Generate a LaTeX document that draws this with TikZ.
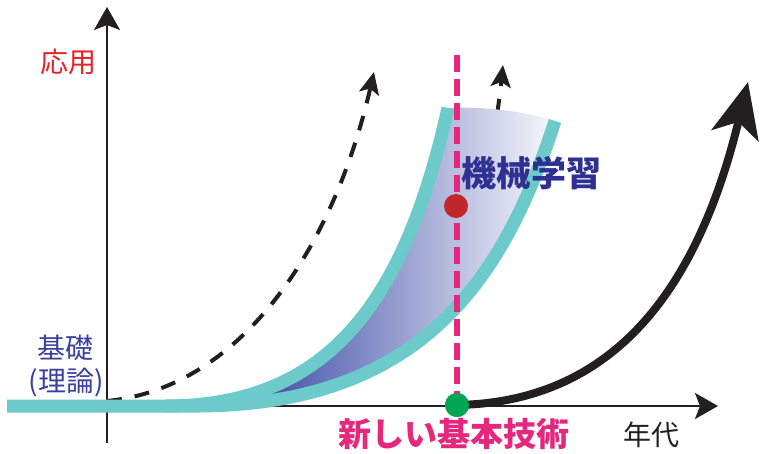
\documentclass[tikz,border=0pt]{standalone}
\usepackage{fontspec}
\newfontfamily\cjk{Noto Sans CJK JP}
\usetikzlibrary{arrows.meta}
\definecolor{bandcyan}{HTML}{6CCACB}
\definecolor{navy}{HTML}{2E3192}
\definecolor{navylt}{HTML}{3B40A0}
\definecolor{pinkm}{HTML}{E6287D}
\definecolor{redt}{HTML}{E8202A}
\definecolor{reddot}{HTML}{C1272D}
\definecolor{greendot}{HTML}{00A651}
\definecolor{fillA}{HTML}{4A58AC}
\definecolor{fillB}{HTML}{F6F6FB}
\definecolor{ink}{HTML}{231F20}
\tikzset{
  axis/.style={line width=2.5pt, draw=ink, -{Stealth[length=23pt,width=26pt,inset=5pt]}},
  band/.style={line width=13pt, draw=bandcyan, line cap=butt},
  dasharrow/.style={line width=4pt, draw=ink, dash pattern=on 15pt off 13pt, -{Stealth[length=22pt,width=20pt,inset=5pt]}},
  bigarrow/.style={line width=8pt, draw=ink, -{Stealth[length=55pt,width=48pt,inset=14pt]}},
  dot/.style={circle, minimum size=24pt, inner sep=0pt},
  lbl/.style={inner sep=0pt, font=\cjk\fontsize{28}{30}\selectfont},
  blbl/.style={inner sep=0pt, font=\cjk\bfseries\fontsize{35}{37}\selectfont},
  blbl2/.style={inner sep=0pt, font=\cjk\bfseries\fontsize{33}{35}\selectfont},
}
\begin{document}
\begin{tikzpicture}[x=1pt,y=-1pt]
\useasboundingbox (0,0) rectangle (763,453);
% coordinates
\coordinate (ybot) at (107,443);
\coordinate (ytop) at (107,7);
\coordinate (xl) at (100,406);
\coordinate (xr) at (718,406);
\coordinate (d1s) at (107,401);
\coordinate (d1e) at (374,72);
\coordinate (d2s) at (440,300);
\coordinate (d2e) at (503,65);
\coordinate (bs) at (7,406);
\coordinate (lb) at (165,406);
\coordinate (lt) at (448,108);
\coordinate (rb) at (200,406);
\coordinate (rt) at (555,121);
\coordinate (pt) at (457,55);
\coordinate (be) at (748,82);
% axes
\draw[axis] (ybot) -- (ytop);
\draw[axis] (xl) -- (xr);
% dashed arrows
\draw[dasharrow] (d1s) .. controls (240,388) and (333,250) .. (d1e);
\draw[dasharrow] (d2s) .. controls (480,230) and (495,140) .. (d2e);
% gradient region
\begin{scope}
\clip (lb) .. controls (330,406) and (405,300) .. (lt)
  .. controls (490,106) and (530,113) .. (rt)
  .. controls (505,275) and (425,404) .. (rb) -- cycle;
\shade[left color=fillA, right color=fillB] (275,100) rectangle (552,410);
\fill[fillA] (150,100) rectangle (275.5,410);
\end{scope}
% cyan band
\draw[band] (bs) -- (lb) .. controls (330,406) and (405,300) .. (lt);
\draw[band] (lb) -- (rb) .. controls (425,404) and (505,275) .. (rt);
% black arrow
\node[dot, fill=greendot] (g) at (457,405) {};
\draw[bigarrow] (g.center) .. controls (620,402) and (700,280) .. (be);
% pink dashed line
\draw[pinkm, line width=6pt, dash pattern=on 17pt off 7pt] (pt) -- (g.center);
\node[dot, fill=reddot] (r) at (456,206) {};
\node[dot, fill=greendot] at (457,405) {};
% labels
\node[lbl, text=redt] (app) at (68,62) {応用};
\node[lbl, text=navylt] (kiso) at (65,348) {基礎};
\node[lbl, text=navylt] (riron) at (66,383) {(理論)};
\node[blbl, text=navy, anchor=west] (ml) at (461,173) {機械学習};
\node[blbl2, text=pinkm] (new) at (454,434) {新しい基本技術};
\node[lbl, text=ink] (nen) at (651,435) {年代};
\end{tikzpicture}
\end{document}
